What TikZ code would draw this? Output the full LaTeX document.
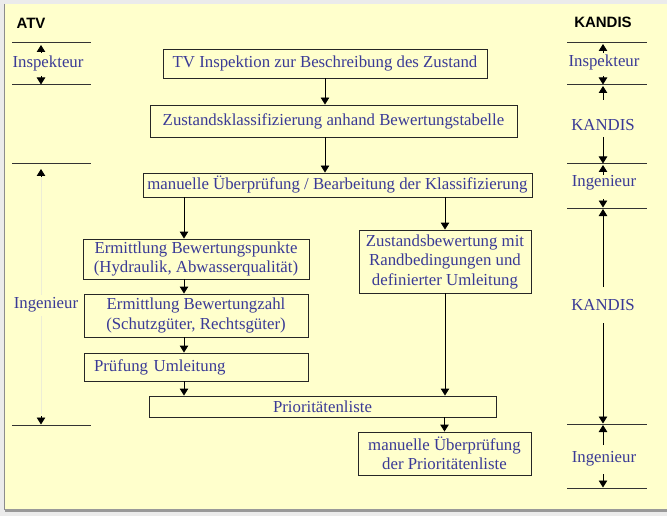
\documentclass[tikz,border=0pt]{standalone}
\usepackage{fontspec}
\setmainfont{Liberation Serif}
\newfontfamily\headfont{Liberation Sans}
\usetikzlibrary{arrows.meta}
\definecolor{bgyellow}{HTML}{FFFFCC}
\definecolor{txtblue}{HTML}{3A3A96}
\definecolor{faint}{HTML}{EDEDD6}
\begin{document}
\begin{tikzpicture}[x=1pt,y=-1pt,
  box/.style={draw=black!85, line width=0.9pt, text=txtblue, font=\fontsize{16.8}{19.5}\selectfont, inner sep=0pt, align=center},
  lbl/.style={text=txtblue, font=\fontsize{16.8}{19.5}\selectfont, inner sep=0pt},
  head/.style={font=\headfont\bfseries\fontsize{15}{18}\selectfont, inner sep=0pt},
  arr/.style={-{Triangle[width=8.5pt,length=7pt]}, line width=0.9pt},
  rule/.style={line width=1pt, draw=black!80}]
% background
\fill[black!8] (0,0) rectangle (667,516);
\fill[bgyellow] (5,4) rectangle (667,509);
\draw[black!45, line width=1.2pt] (4.5,4) -- (4.5,510);
\fill[black!40] (5,509) rectangle (667,512);
\useasboundingbox (0,0) rectangle (667,516);
% boxes
\node[box, minimum width=324pt, minimum height=29pt] (tv) at (325,63.5) {TV Inspektion zur Beschreibung des Zustand};
\node[box, minimum width=367pt, minimum height=32pt] (zk) at (333.5,121) {Zustandsklassifizierung anhand Bewertungstabelle};
\node[box, minimum width=389pt, minimum height=24pt] (mu) at (337.5,185) {manuelle Überprüfung / Bearbeitung der Klassifizierung};
\node[box, minimum width=226pt, minimum height=40pt] (ebp) at (196,259) {Ermittlung Bewertungspunkte\\(Hydraulik, Abwasserqualität)};
\node[box, minimum width=172pt, minimum height=63pt] (zb) at (445,261.5) {Zustandsbewertung mit\\Randbedingungen und\\definierter Umleitung};
\node[box, minimum width=224pt, minimum height=43pt] (ebz) at (196,315.5) {Ermittlung Bewertungzahl\\(Schutzgüter, Rechtsgüter)};
\node[box, text width=204pt, inner xsep=10pt, align=left, minimum height=28pt] (pu) at (196,367) {Prüfung Umleitung};
\node[box, minimum width=347pt, minimum height=21pt] (pl) at (322.5,406.5) {Prioritätenliste};
\node[box, minimum width=173pt, minimum height=43pt] (mp) at (444.5,453.5) {manuelle Überprüfung\\der Prioritätenliste};
% connectors
\coordinate (c1) at (184,0);
\draw[arr] (tv.south) -- (tv.south |- zk.north);
\draw[arr] (zk.south -| tv.south) -- (mu.north -| tv.south);
\draw[arr] (mu.south -| c1) -- (ebp.north -| c1);
\draw[arr] (mu.south -| zb.north) -- (zb.north);
\draw[arr] (ebp.south -| c1) -- (ebz.north -| c1);
\draw[arr] (ebz.south -| c1) -- (pu.north -| c1);
\draw[arr] (pu.south -| c1) -- (pl.north -| c1);
\draw[arr] (zb.south) -- (pl.north -| zb.south);
\draw[arr] (pl.south -| mp.north) -- (mp.north);
% left column ATV
\node[head] (atv) at (31,23) {ATV};
\draw[rule] (12,43) -- (91,43);
\draw[rule] (12,85) -- (91,85);
\draw[rule] (12,164) -- (91,164);
\draw[rule] (12,425) -- (91,425);
\node[lbl] (li) at (48,63) {Inspekteur};
\node[lbl] (lg) at (46,305) {Ingenieur};
\draw[arr] (41,53) -- (41,45);
\draw[arr] (41,76) -- (41,84.5);
\draw[faint, line width=0.8pt] (41,176) -- (41,295);
\draw[faint, line width=0.8pt] (41,316) -- (41,414);
\draw[arr] (41,177) -- (41,169);
\draw[arr] (41,416) -- (41,424.5);
% right column KANDIS
\node[head] (kandis) at (603,22) {KANDIS};
\draw[rule] (567,43) -- (647,43);
\draw[rule] (567,85) -- (647,85);
\draw[rule] (567,164) -- (647,164);
\draw[rule] (567,208) -- (647,208);
\draw[rule] (567,424) -- (647,424);
\draw[rule] (567,488) -- (647,488);
\node[lbl] (ri) at (604,62) {Inspekteur};
\node[lbl] (rk1) at (603,125) {KANDIS};
\node[lbl] (rg1) at (604,183) {Ingenieur};
\node[lbl] (rk2) at (603,305) {KANDIS};
\node[lbl] (rg2) at (604,459) {Ingenieur};
\draw[arr] (603,53) -- (603,44);
\draw[arr] (603,76) -- (603,84.5);
\draw[arr] (603,100) -- (603,86);
\draw[arr] (603,137) -- (603,163.5);
\draw[arr] (603,175) -- (603,165);
\draw[arr] (603,199) -- (603,207.5);
\draw[arr] (603,287) -- (603,209);
\draw[arr] (603,323) -- (603,423.5);
\draw[arr] (603,445) -- (603,425);
\draw[arr] (603,474) -- (603,487.5);
\end{tikzpicture}
\end{document}
